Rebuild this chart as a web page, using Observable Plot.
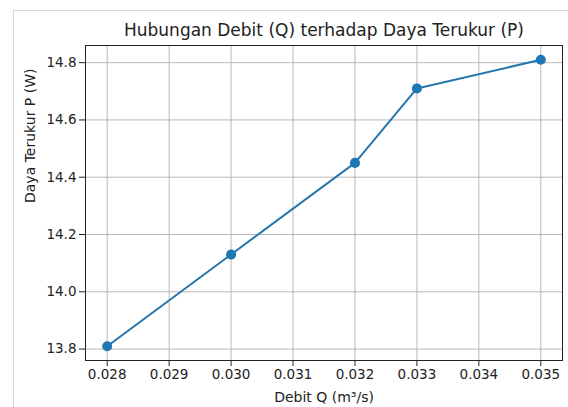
<!DOCTYPE html>
<html><head><meta charset="utf-8">
<script src="https://cdn.jsdelivr.net/npm/d3@7"></script>
<script src="https://cdn.jsdelivr.net/npm/@observablehq/plot@0.6"></script>
<style>
html,body{margin:0;padding:0;background:#fff;}
#wrap{position:relative;width:568px;height:407px;overflow:hidden;background:#fff;}
#cell{position:absolute;left:13px;top:10px;width:700px;height:600px;border-left:1px solid #d6d6d6;border-top:1px solid #d6d6d6;}
#chart{position:absolute;left:0;top:0;}
</style></head><body>
<div id="wrap"><div id="cell"></div><div id="chart"></div></div>
<script>
const debitQ = [0.028, 0.030, 0.032, 0.033, 0.035];
const dayaP = [13.81, 14.13, 14.45, 14.71, 14.81];
const xTicks = [0.028, 0.029, 0.030, 0.031, 0.032, 0.033, 0.034, 0.035];
const yTicks = [13.8, 14.0, 14.2, 14.4, 14.6, 14.8];
const titleText = "Hubungan Debit (Q) terhadap Daya Terukur (P)";
const xLabel = "Debit Q (m³/s)";
const yLabel = "Daya Terukur P (W)";

const data = debitQ.map((q, i) => ({q, p: dayaP[i]}));
const font = "DejaVu Sans";
const plot = Plot.plot({
  width: 568, height: 407,
  marginLeft: 85, marginRight: 6, marginTop: 45, marginBottom: 47,
  style: {fontFamily: font, fontSize: "13.5px", color: "#222", background: "transparent", overflow: "visible"},
  x: {domain: [0.02765, 0.03535], label: null},
  y: {domain: [13.7601, 14.8599], label: null},
  marks: [
    Plot.gridX(xTicks, {stroke: "#b0b0b0", strokeOpacity: 1, strokeWidth: 0.9}),
    Plot.gridY(yTicks, {stroke: "#b0b0b0", strokeOpacity: 1, strokeWidth: 0.9}),
    Plot.line(data, {x: "q", y: "p", stroke: "#2676ad", strokeWidth: 2}),
    Plot.dot(data, {x: "q", y: "p", fill: "#1f77b4", stroke: "#1f77b4", r: 4.3}),
    Plot.frame({stroke: "#222", strokeWidth: 1}),
    Plot.axisX(xTicks, {tickFormat: d => d.toFixed(3), tickSize: 6, tickPadding: 3, label: null, stroke: "#222", fill: "#222"}),
    Plot.axisY(yTicks, {tickFormat: d => d.toFixed(1), tickSize: 6, tickPadding: 3, label: null, stroke: "#222", fill: "#222"}),
    Plot.text([titleText], {frameAnchor: "top", lineAnchor: "middle", dy: -15, fontSize: 17, fill: "#222", text: d => d}),
    Plot.text([xLabel], {frameAnchor: "bottom", lineAnchor: "middle", dy: 37, fontSize: 14, fill: "#222", text: d => d}),
    Plot.text([yLabel], {frameAnchor: "left", lineAnchor: "middle", dx: -55, rotate: -90, fontSize: 14, fill: "#222", text: d => d})
  ]
});
document.getElementById("chart").appendChild(plot);
</script>
</body></html>
